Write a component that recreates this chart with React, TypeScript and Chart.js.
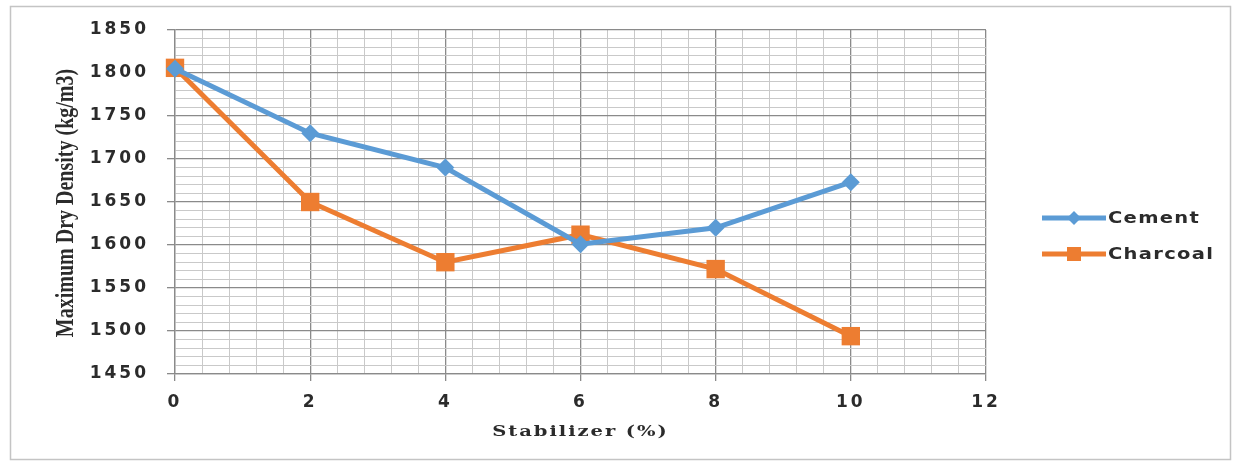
import React, { useEffect, useRef } from "react";
import { Chart, registerables } from "chart.js";

Chart.register(...registerables);

const stabilizer = [0, 2, 4, 6, 8, 10];
const cement = [1805, 1730, 1690, 1601, 1620, 1673];
const charcoal = [1806, 1650, 1580, 1612, 1572, 1494];
const seriesNames = ["Cement", "Charcoal"];
const seriesColors = ["#5B9BD5", "#ED7D31"];
const xTitle = "Stabilizer (%)";
const yTitle = "Maximum Dry Density (kg/m3)";
const xMin = 0;
const xMax = 12;
const xMajor = 2;
const xMinor = 0.4;
const yMin = 1450;
const yMax = 1850;
const yMajor = 50;
const yMinor = 10;

const W = 1239;
const H = 463;
const AREA_LEFT = 175;
const AREA_RIGHT = 986;
const AREA_TOP = 30;
const AREA_BOTTOM = 374;

const MAJOR_COLOR = "#8a8a8a";
const MINOR_COLOR = "#c9c9c9";
const TEXT_COLOR = "#2b2b2b";
const TICK_SPACING = "3px";

const isMultiple = (v: number, step: number) =>
  Math.abs(v / step - Math.round(v / step)) < 1e-6;

const decorPlugin = {
  id: "decor",
  beforeLayout(chart: any) {
    chart.ctx.letterSpacing = TICK_SPACING;
  },
  beforeDraw(chart: any) {
    const ctx = chart.ctx;
    ctx.letterSpacing = "0px";
    ctx.save();
    ctx.fillStyle = "#ffffff";
    ctx.fillRect(0, 0, W, H);
    ctx.strokeStyle = "#c4c4c4";
    ctx.lineWidth = 1.5;
    ctx.strokeRect(10.5, 6.5, 1220, 453);
    ctx.restore();
    ctx.letterSpacing = TICK_SPACING;
  },
  afterDraw(chart: any) {
    const ctx = chart.ctx;
    const area = chart.chartArea;
    ctx.save();
    ctx.fillStyle = TEXT_COLOR;
    ctx.textBaseline = "middle";

    // y axis title
    ctx.letterSpacing = "0px";
    ctx.font = 'bold 20px "Liberation Serif"';
    ctx.textAlign = "center";
    ctx.save();
    ctx.translate(67, (area.top + area.bottom) / 2 + 1);
    ctx.rotate(-Math.PI / 2);
    ctx.scale(1, 1.25);
    ctx.fillText(yTitle, 0, 0);
    ctx.restore();

    // x axis title
    ctx.save();
    ctx.letterSpacing = "1.5px";
    ctx.font = 'bold 15px "DejaVu Serif"';
    ctx.textAlign = "center";
    ctx.translate((area.left + area.right) / 2, 432);
    ctx.scale(1.3, 1);
    ctx.fillText(xTitle, 0, 0);
    ctx.restore();

    // legend
    const legendY = [218, 254];
    seriesNames.forEach((name, i) => {
      const y = legendY[i];
      const c = seriesColors[i];
      ctx.strokeStyle = c;
      ctx.lineWidth = 5;
      ctx.beginPath();
      ctx.moveTo(1042, y);
      ctx.lineTo(1106, y);
      ctx.stroke();
      ctx.fillStyle = c;
      const cx = 1074;
      if (i === 0) {
        ctx.beginPath();
        ctx.moveTo(cx, y - 7);
        ctx.lineTo(cx + 7, y);
        ctx.lineTo(cx, y + 7);
        ctx.lineTo(cx - 7, y);
        ctx.closePath();
        ctx.fill();
      } else {
        ctx.fillRect(cx - 7, y - 7, 14, 14);
      }
      ctx.save();
      ctx.fillStyle = TEXT_COLOR;
      ctx.letterSpacing = "1px";
      ctx.font = 'bold 15px "DejaVu Sans"';
      ctx.textAlign = "left";
      ctx.translate(1108, y + 1);
      ctx.scale(1.3, 1);
      ctx.fillText(name, 0, 0);
      ctx.restore();
    });
    ctx.restore();
    ctx.letterSpacing = TICK_SPACING;
  },
};

const tickFont = { family: '"DejaVu Sans"', size: 17, weight: "bold" as const };

export default function App() {
  const ref = useRef<HTMLCanvasElement | null>(null);

  useEffect(() => {
    if (!ref.current) return;
    const toPoints = (vals: number[]) =>
      stabilizer.map((x, i) => ({ x, y: vals[i] }));
    const chart = new Chart(ref.current, {
      type: "line",
      data: {
        datasets: [
          {
            label: seriesNames[0],
            data: toPoints(cement),
            borderColor: seriesColors[0],
            backgroundColor: seriesColors[0],
            borderWidth: 5,
            pointStyle: "rectRot",
            pointRadius: 9,
            pointBorderWidth: 0,
            pointBackgroundColor: seriesColors[0],
            tension: 0,
            clip: false as any,
          },
          {
            label: seriesNames[1],
            data: toPoints(charcoal),
            borderColor: seriesColors[1],
            backgroundColor: seriesColors[1],
            borderWidth: 5,
            pointStyle: "rect",
            pointRadius: 13,
            pointBorderWidth: 0,
            pointBackgroundColor: seriesColors[1],
            tension: 0,
            clip: false as any,
          },
        ],
      },
      options: {
        responsive: false,
        animation: false,
        events: [],
        layout: {
          padding: { left: 0, right: W - AREA_RIGHT, top: AREA_TOP, bottom: 0 },
        },
        plugins: {
          legend: { display: false },
          tooltip: { enabled: false },
          title: { display: false },
        },
        scales: {
          x: {
            type: "linear",
            min: xMin,
            max: xMax,
            afterFit: (s: any) => {
              s.height = H - AREA_BOTTOM;
            },
            border: { color: MAJOR_COLOR, width: 1.3 },
            grid: {
              color: (c: any) =>
                isMultiple(c.tick.value, xMajor) ? MAJOR_COLOR : MINOR_COLOR,
              lineWidth: (c: any) => (isMultiple(c.tick.value, xMajor) ? 1.3 : 1),
              tickColor: (c: any) =>
                isMultiple(c.tick.value, xMajor) ? MAJOR_COLOR : "rgba(0,0,0,0)",
              tickLength: 7,
            },
            ticks: {
              stepSize: xMinor,
              autoSkip: false,
              maxRotation: 0,
              padding: 11,
              color: TEXT_COLOR,
              font: tickFont,
              callback: (v: any) => (isMultiple(Number(v), xMajor) ? String(Math.round(Number(v))) : ""),
            },
          },
          y: {
            type: "linear",
            min: yMin,
            max: yMax,
            afterFit: (s: any) => {
              s.width = AREA_LEFT;
            },
            border: { color: MAJOR_COLOR, width: 1.3 },
            grid: {
              color: (c: any) =>
                isMultiple(c.tick.value, yMajor) ? MAJOR_COLOR : MINOR_COLOR,
              lineWidth: (c: any) => (isMultiple(c.tick.value, yMajor) ? 1.3 : 1),
              tickColor: (c: any) =>
                isMultiple(c.tick.value, yMajor) ? MAJOR_COLOR : "rgba(0,0,0,0)",
              tickLength: 8,
            },
            ticks: {
              stepSize: yMinor,
              autoSkip: false,
              padding: 18,
              color: TEXT_COLOR,
              font: tickFont,
              callback: (v: any) => (isMultiple(Number(v), yMajor) ? String(Math.round(Number(v))) : ""),
            },
          },
        },
      },
      plugins: [decorPlugin],
    });
    return () => chart.destroy();
  }, []);

  return (
    <div style={{ position: "fixed", left: 0, top: 0, width: W, height: H, background: "#fff" }}>
      <canvas ref={ref} width={W} height={H} style={{ display: "block" }} />
    </div>
  );
}
